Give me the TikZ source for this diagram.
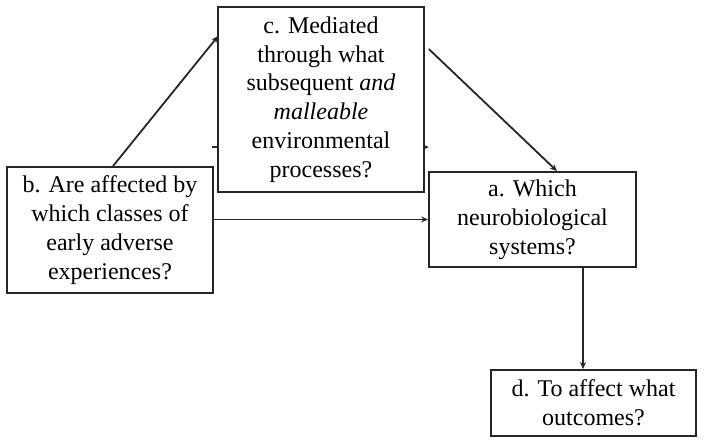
\documentclass[tikz,border=0pt]{standalone}
\usepackage{fontspec}
\setmainfont{Liberation Serif}
\usetikzlibrary{arrows.meta,backgrounds,calc}
\begin{document}
\begin{tikzpicture}[x=1pt,y=-1pt,
  box/.style={draw=black!85,line width=1.8pt,fill=white,inner sep=0pt,align=center,
    font=\fontsize{24}{28.8}\selectfont},
  arr/.style={draw=black!85,line width=1.8pt,-{Stealth[length=7pt,width=6pt]}}]
\useasboundingbox (0,0) rectangle (704,445);
\node[box,minimum width=206pt,minimum height=126pt] (b) at (110,230)
  {b. Are affected by\\which classes of\\early adverse\\experiences?};
\node[box,minimum width=206pt,minimum height=185pt] (c) at (321,99.5)
  {c. Mediated\\through what\\subsequent \emph{and}\\\emph{malleable}\\environmental\\processes?};
\node[box,minimum width=207pt,minimum height=95pt] (a) at (532.5,219.5)
  {a. Which\\neurobiological\\systems?};
\node[box,minimum width=205pt,minimum height=66pt] (d) at (593.5,403)
  {d. To affect what\\outcomes?};
\begin{pgfonlayer}{background}
\coordinate (hs) at ([yshift=-141pt,xshift=-5pt]c.north west);
\coordinate (he) at ([yshift=-141pt,xshift=4pt]c.north east);
\draw[arr] (hs) -- (he);
\end{pgfonlayer}
\draw[arr] ([xshift=3pt]b.north) -- ([yshift=-30pt,xshift=1pt]c.north west);
\draw[arr] ([xshift=4pt,yshift=-43pt]c.north east) -- ([xshift=24.5pt]a.north);
\draw[arr] (b.east |- a.west) -- (a.west);
\draw[arr] ([xshift=50.5pt]a.south) -- ([xshift=50.5pt]a.south |- d.north);
\end{tikzpicture}
\end{document}
